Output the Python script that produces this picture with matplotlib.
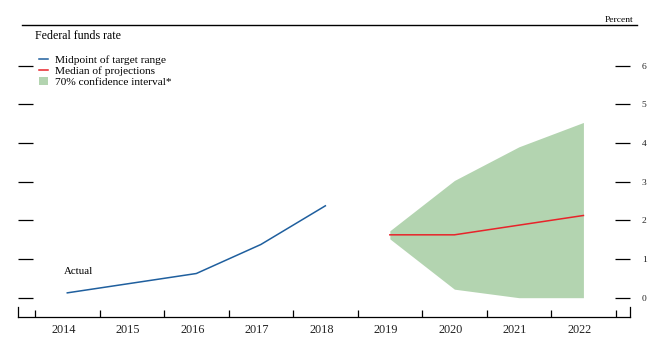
import matplotlib
matplotlib.use('Agg')
import matplotlib.pyplot as plt
from matplotlib.lines import Line2D
from matplotlib.patches import Patch
from matplotlib.transforms import ScaledTranslation

# data
actual_years = [2014, 2015, 2016, 2017, 2018]
midpoint = [0.125, 0.375, 0.625, 1.375, 2.375]

proj_years = [2019, 2020, 2021, 2022]
median = [1.625, 1.625, 1.875, 2.125]
ci_low = [1.52, 0.22, 0.0, 0.0]
ci_high = [1.73, 3.03, 3.90, 4.53]

year_labels = [str(y) for y in range(2014, 2023)]
y_ticks = [0, 1, 2, 3, 4, 5, 6]

blue = '#1f5f9e'
red = '#e8232a'
green = '#b3d4b0'
txt = '#222222'

plt.rcParams['font.family'] = ['Liberation Serif', 'DejaVu Serif']

W, H = 653, 349
fig = plt.figure(figsize=(W / 100, H / 100), dpi=100)
ax = fig.add_axes([18 / W, 1 - 317.3 / H, (630 - 18) / W, (317.3 - 30) / H])

ax.fill_between(proj_years, ci_low, ci_high, color=green, lw=0, zorder=1)
ax.plot(actual_years, midpoint, color=blue, lw=1.1, zorder=3)
ax.plot(proj_years, median, color=red, lw=1.1, zorder=3)

x0, x1 = 2013.236, 2022.722
y0, y1 = -0.507, 6.92
ax.set_xlim(x0, x1)
ax.set_ylim(y0, y1)

# spines: baseline plus short end caps
ax.spines['top'].set_visible(False)
for s in ['left', 'right']:
    ax.spines[s].set_bounds(y0, y0 + 10 / 38.67)
    ax.spines[s].set_linewidth(0.9)
ax.spines['bottom'].set_linewidth(0.9)

# x: boundary ticks (major) and labels at year centres (minor)
ax.set_xticks([y - 0.5 for y in range(2014, 2024)])
ax.set_xticklabels([])
ax.set_xticks(list(range(2014, 2023)), minor=True)
ax.set_xticklabels(year_labels, minor=True)
ax.tick_params(axis='x', which='major', direction='in', length=5.2, width=0.9)
ax.tick_params(axis='x', which='minor', length=0, pad=4.5, labelsize=8.8,
               labelcolor=txt)
off = ScaledTranslation(-4 / 100, 0, fig.dpi_scale_trans)
for lab in ax.get_xticklabels(minor=True):
    lab.set_transform(lab.get_transform() + off)

# y: ticks inside on both sides, labels on the right
ax.set_yticks(y_ticks)
ax.set_yticklabels([str(v) for v in y_ticks])
ax.tick_params(axis='y', left=True, right=True, labelleft=False, labelright=True,
               direction='in', length=10.8, width=0.9, pad=8.5, labelsize=6.8,
               labelcolor=txt)

ax.text(2013.94, 0.67, 'Actual', fontsize=7.8, color='black', va='center', ha='left')

# header
fig.add_artist(Line2D([22 / W, 637 / W], [1 - 25 / H, 1 - 25 / H], color='black', lw=1.0))
fig.text(633 / W, 1 - 19.5 / H, 'Percent', fontsize=6.8, ha='right', va='center')
fig.text(35 / W, 1 - 36 / H, 'Federal funds rate', fontsize=8.6, ha='left', va='center')

handles = [Line2D([], [], color=blue, lw=1.1),
           Line2D([], [], color=red, lw=1.1),
           Patch(facecolor=green, edgecolor='none')]
labels = ['Midpoint of target range', 'Median of projections', '70% confidence interval*']
fig.legend(handles, labels, loc='upper left', bbox_to_anchor=(39 / W, 1 - 55.5 / H),
           frameon=False, fontsize=8.2, borderpad=0, borderaxespad=0,
           handlelength=0.8, handleheight=0.7, handletextpad=0.6, labelspacing=0.05)

fig.savefig('out.png', dpi=100)
plt.close(fig)
